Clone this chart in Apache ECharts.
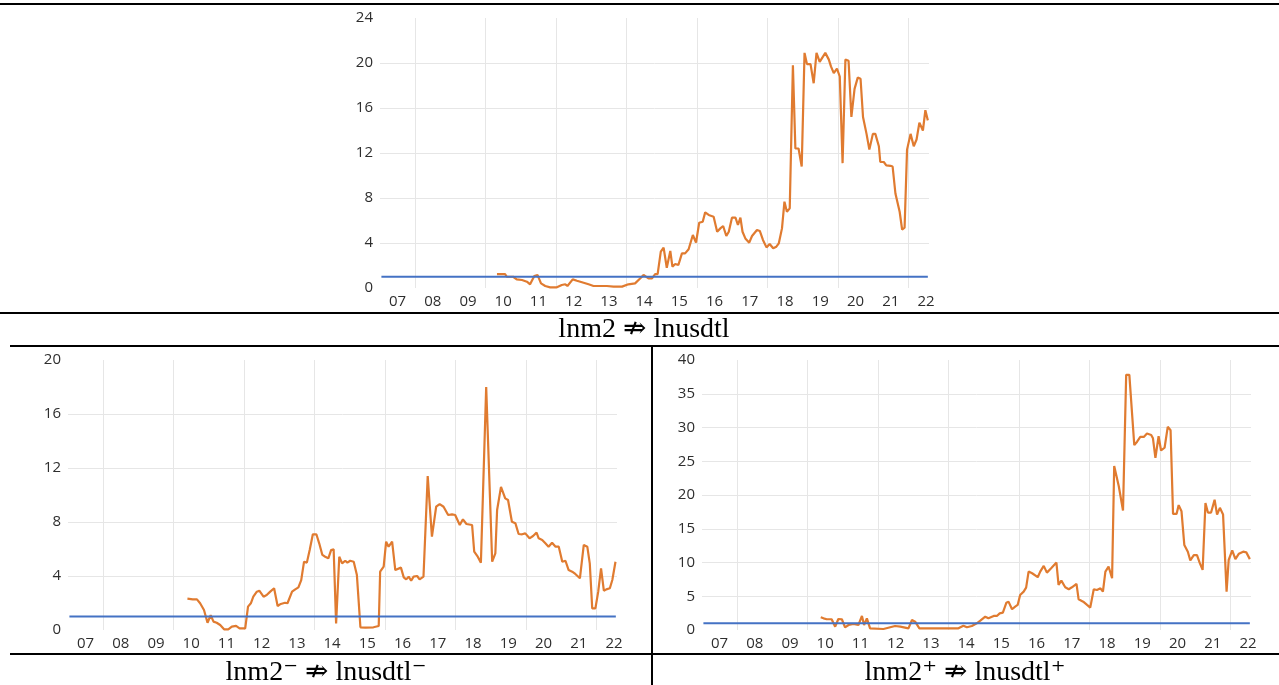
<!DOCTYPE html>
<html><head><meta charset="utf-8">
<script src="https://cdn.jsdelivr.net/npm/echarts@6/dist/echarts.min.js"></script>
<style>html,body{margin:0;padding:0;background:#fff}#c{width:1279px;height:685px}</style>
</head><body><div id="c"></div>
<script>
// x values are decimal years
const yearMin = 2007, yearMax = 2022.583;

const topDates = [2010.32,2010.55,2010.60,2010.78,2010.88,2011.03,2011.17,2011.26,2011.38,2011.47,2011.57,2011.69,2011.83,2012.02,2012.16,2012.26,2012.32,2012.47,2012.59,2012.78,2012.92,2013.06,2013.44,2013.63,2013.87,2014.05,2014.24,2014.39,2014.48,2014.62,2014.72,2014.81,2014.88,2014.97,2015.05,2015.14,2015.24,2015.30,2015.38,2015.47,2015.57,2015.66,2015.76,2015.88,2015.97,2016.06,2016.16,2016.23,2016.33,2016.47,2016.57,2016.66,2016.74,2016.83,2016.90,2016.99,2017.09,2017.16,2017.23,2017.29,2017.37,2017.48,2017.56,2017.70,2017.78,2017.87,2017.97,2018.06,2018.16,2018.25,2018.32,2018.41,2018.48,2018.55,2018.63,2018.72,2018.79,2018.88,2018.97,2019.05,2019.12,2019.22,2019.31,2019.39,2019.48,2019.64,2019.74,2019.80,2019.88,2019.97,2020.05,2020.13,2020.21,2020.30,2020.38,2020.47,2020.56,2020.64,2020.71,2020.81,2020.89,2020.99,2021.06,2021.16,2021.20,2021.30,2021.37,2021.49,2021.55,2021.63,2021.75,2021.82,2021.89,2021.96,2022.06,2022.15,2022.23,2022.31,2022.41,2022.48,2022.55];
const topValues = [1.24,1.24,1.0,1.0,0.77,0.71,0.56,0.33,1.07,1.16,0.41,0.18,0.06,0.06,0.27,0.33,0.18,0.77,0.65,0.47,0.33,0.18,0.18,0.12,0.12,0.33,0.41,0.86,1.16,0.86,0.86,1.24,1.24,3.23,3.59,1.8,3.29,1.9,2.13,2.04,3.08,3.08,3.44,4.71,4.03,5.8,5.89,6.72,6.49,6.34,5.0,5.3,5.51,4.62,5.0,6.25,6.25,5.6,6.25,5.0,4.41,4.03,4.62,5.16,5.07,4.27,3.61,3.91,3.53,3.67,3.97,5.3,7.67,6.78,7.08,19.8,12.4,12.4,10.8,20.9,19.9,19.9,18.2,20.9,20.1,20.9,20.3,19.7,19.1,19.5,18.8,11.1,20.3,20.2,15.2,17.7,18.7,18.6,15.2,13.7,12.3,13.7,13.7,12.6,11.2,11.2,10.9,10.86,10.8,8.4,6.78,5.2,5.36,12.3,13.7,12.6,13.2,14.7,14.0,15.8,14.9];

const negDates = [2010.39,2010.54,2010.66,2010.75,2010.86,2010.96,2011.05,2011.13,2011.22,2011.32,2011.43,2011.55,2011.65,2011.77,2011.87,2012.03,2012.11,2012.19,2012.26,2012.36,2012.43,2012.55,2012.64,2012.74,2012.85,2012.95,2013.04,2013.16,2013.23,2013.36,2013.45,2013.54,2013.62,2013.70,2013.78,2013.86,2013.95,2014.05,2014.13,2014.22,2014.30,2014.39,2014.47,2014.54,2014.61,2014.70,2014.78,2014.87,2014.93,2015.01,2015.11,2015.20,2015.30,2015.44,2015.67,2015.82,2015.86,2015.96,2016.03,2016.10,2016.20,2016.29,2016.45,2016.53,2016.60,2016.67,2016.74,2016.81,2016.91,2016.98,2017.09,2017.14,2017.21,2017.33,2017.45,2017.55,2017.66,2017.79,2017.90,2017.99,2018.12,2018.21,2018.31,2018.47,2018.53,2018.63,2018.72,2018.87,2019.04,2019.13,2019.18,2019.29,2019.41,2019.49,2019.54,2019.60,2019.70,2019.79,2019.89,2019.98,2020.10,2020.20,2020.30,2020.36,2020.46,2020.55,2020.64,2020.74,2020.84,2020.93,2021.03,2021.12,2021.21,2021.31,2021.40,2021.53,2021.64,2021.74,2021.81,2021.88,2021.97,2022.05,2022.13,2022.21,2022.28,2022.38,2022.45,2022.54];
const negValues = [2.32,2.27,2.27,1.98,1.48,0.54,1.09,0.62,0.54,0.37,0.05,0.05,0.25,0.3,0.12,0.12,1.73,1.98,2.47,2.84,2.91,2.47,2.59,2.84,3.09,1.78,1.93,2.02,1.98,2.84,3.01,3.16,3.7,5.06,4.99,5.93,7.09,7.09,6.42,5.56,5.43,5.31,5.93,5.98,0.49,5.43,4.93,5.13,4.99,5.13,5.06,4.07,0.2,0.17,0.2,0.3,4.32,4.69,6.54,6.17,6.54,4.44,4.62,3.9,3.75,3.95,3.65,3.95,4.0,3.75,3.95,3.95,11.4,6.91,9.13,9.33,9.13,8.52,8.57,8.52,7.78,8.2,7.85,7.78,5.8,5.43,4.99,18.0,5.06,5.68,8.89,10.6,9.75,9.63,9.75,8.02,7.9,7.11,7.09,7.16,6.79,6.96,7.21,6.79,6.67,6.42,6.17,6.47,6.17,6.17,5.06,5.13,4.44,4.32,4.15,3.83,6.3,6.17,4.94,1.6,1.6,2.84,4.57,2.91,3.01,3.09,3.7,5.06];

const posDates = [2010.37,2010.45,2010.54,2010.68,2010.78,2010.87,2010.97,2011.06,2011.16,2011.30,2011.44,2011.54,2011.60,2011.68,2011.77,2012.15,2012.48,2012.63,2012.86,2012.96,2013.05,2013.17,2014.28,2014.42,2014.52,2014.66,2014.80,2014.90,2015.04,2015.13,2015.28,2015.37,2015.45,2015.54,2015.64,2015.70,2015.80,2015.89,2015.96,2016.03,2016.13,2016.20,2016.27,2016.37,2016.53,2016.60,2016.70,2016.79,2016.91,2017.06,2017.12,2017.20,2017.31,2017.41,2017.50,2017.63,2017.69,2017.82,2017.93,2018.02,2018.12,2018.21,2018.31,2018.38,2018.45,2018.54,2018.64,2018.70,2018.83,2018.95,2019.04,2019.13,2019.27,2019.35,2019.44,2019.54,2019.63,2019.75,2019.80,2019.87,2019.96,2020.03,2020.13,2020.22,2020.30,2020.37,2020.47,2020.53,2020.61,2020.69,2020.79,2020.86,2020.96,2021.05,2021.13,2021.21,2021.29,2021.36,2021.45,2021.55,2021.62,2021.70,2021.79,2021.89,2021.95,2022.05,2022.14,2022.24,2022.36,2022.45,2022.55];
const posValues = [1.88,1.73,1.59,1.59,0.49,1.63,1.59,0.4,0.74,0.89,0.74,2.08,0.74,1.73,0.25,0.15,0.59,0.49,0.25,1.48,1.23,0.25,0.25,0.64,0.4,0.59,0.99,1.38,1.97,1.73,2.08,2.08,2.47,2.57,4.05,4.2,3.07,3.46,3.71,5.19,5.68,6.28,8.65,8.41,7.82,8.65,9.5,8.5,9.15,9.99,6.68,7.32,6.33,6.04,6.33,6.82,4.55,4.2,3.71,3.31,6.04,5.93,6.18,5.68,8.65,9.4,7.67,24.3,21.3,17.7,37.8,37.8,27.4,27.9,28.6,28.6,29.1,28.9,28.4,25.5,28.7,26.6,27.0,30.1,29.6,17.2,17.2,18.5,17.6,12.6,11.6,10.3,11.1,11.1,9.9,8.9,18.8,17.4,17.4,19.3,17.1,18.1,17.1,5.68,10.4,11.8,10.5,11.3,11.6,11.5,10.5];

const critDates = [2007.04, 2022.55];
const critTop = [1, 1];
const critNeg = [1, 1];
const critPos = [1, 1];

const yMaxes = [24, 20, 40];
const ySteps = [4, 4, 5];
const captions = ['lnm2 \u21CF lnusdtl', 'lnm2\u207B \u21CF lnusdtl\u207B', 'lnm2\u207A \u21CF lnusdtl\u207A'];

const pairs = (xs, ys) => xs.map((x, i) => [x, ys[i]]);
const ORANGE = '#E07B30', BLUE = '#4472C4', GRID = '#e6e6e6', LABEL = '#2e2e2e';
const labelFont = {fontFamily: 'Open Sans', fontSize: 15, color: LABEL};

const grids = [
  {left: 380, top: 18, width: 549, height: 270},
  {left: 68, top: 360, width: 549, height: 270},
  {left: 702, top: 360, width: 549, height: 270}
];

const xAxes = grids.map((g, i) => ({
  type: 'value', gridIndex: i, min: yearMin, max: yearMax, interval: 1,
  axisLine: {show: false}, axisTick: {show: false},
  axisLabel: Object.assign({}, labelFont, {
    margin: 6, padding: [0, 0, 0, 35],
    formatter: v => Number.isInteger(v) ? String(v % 100).padStart(2, '0') : ''
  }),
  splitLine: {show: true, showMinLine: false, showMaxLine: false,
    lineStyle: {color: [GRID, 'rgba(0,0,0,0)'], width: 1}}
}));

const yAxes = grids.map((g, i) => ({
  type: 'value', gridIndex: i, min: 0, max: yMaxes[i], interval: ySteps[i],
  axisLine: {show: false}, axisTick: {show: false},
  axisLabel: Object.assign({}, labelFont, {margin: 7}),
  splitLine: {show: true, showMinLine: false, showMaxLine: false, lineStyle: {color: GRID, width: 1}}
}));

const seriesSets = [[topDates, topValues, critTop], [negDates, negValues, critNeg], [posDates, posValues, critPos]];
const series = [];
seriesSets.forEach((s, i) => {
  series.push({type: 'line', xAxisIndex: i, yAxisIndex: i, data: pairs(s[0], s[1]),
    showSymbol: false, lineStyle: {color: ORANGE, width: 2.2}, itemStyle: {color: ORANGE}, animation: false, z: 2});
  series.push({type: 'line', xAxisIndex: i, yAxisIndex: i, data: pairs(critDates, s[2]),
    showSymbol: false, lineStyle: {color: BLUE, width: 2.2}, itemStyle: {color: BLUE}, animation: false, z: 3});
});

const capFont = "28px 'Liberation Serif', 'DejaVu Serif', serif";
const rule = (x, y, w, h) => ({type: 'rect', shape: {x, y, width: w, height: h}, style: {fill: '#000'}, silent: true});
const graphic = [
  rule(0, 3, 1279, 2),
  rule(0, 312, 1279, 2),
  rule(10, 345, 1269, 2),
  rule(10, 653, 1269, 2),
  rule(651, 345, 2, 340),
  {type: 'text', x: 644, y: 330, style: {text: captions[0], font: capFont, fill: '#000', align: 'center', verticalAlign: 'middle'}},
  {type: 'text', x: 326, y: 673, style: {text: captions[1], font: capFont, fill: '#000', align: 'center', verticalAlign: 'middle'}},
  {type: 'text', x: 965, y: 673, style: {text: captions[2], font: capFont, fill: '#000', align: 'center', verticalAlign: 'middle'}}
];

const chart = echarts.init(document.getElementById('c'), null, {renderer: 'canvas'});
chart.setOption({
  backgroundColor: '#fff', animation: false,
  grid: grids, xAxis: xAxes, yAxis: yAxes, series, graphic
});
</script></body></html>
